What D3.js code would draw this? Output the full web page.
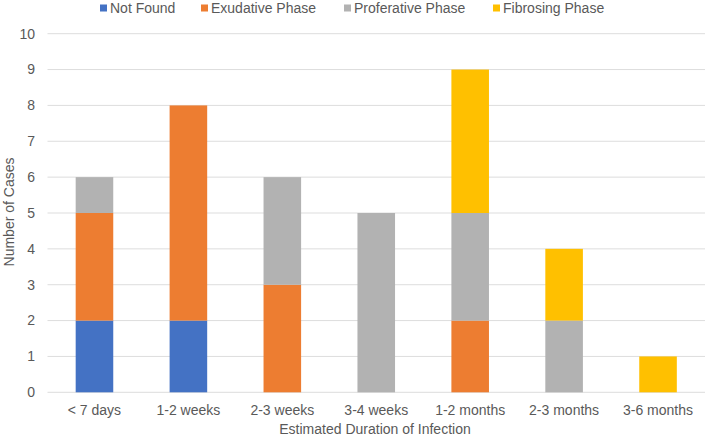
<!DOCTYPE html>
<html><head><meta charset="utf-8">
<script src="https://cdn.jsdelivr.net/npm/d3@7"></script>
<style>body{margin:0;background:#fff}svg{display:block;font-family:"Liberation Sans",Arial,sans-serif}</style>
</head><body><svg width="706" height="436"></svg>
<script>
const categories = ["< 7 days","1-2 weeks","2-3 weeks","3-4 weeks","1-2 months","2-3 months","3-6 months"];
const seriesNames = ["Not Found","Exudative Phase","Proferative Phase","Fibrosing Phase"];
const notFound   = [2,2,0,0,0,0,0];
const exudative  = [3,6,3,0,2,0,0];
const proferative= [1,0,3,5,3,2,0];
const fibrosing  = [0,0,0,0,4,2,1];
const yTicks = [0,1,2,3,4,5,6,7,8,9,10];
const colors = ["#4472C4","#ED7D31","#B2B2B2","#FFC000"];

const rows = categories.map((c,i)=>({cat:c, "Not Found":notFound[i], "Exudative Phase":exudative[i], "Proferative Phase":proferative[i], "Fibrosing Phase":fibrosing[i]}));
const stack = d3.stack().keys(seriesNames)(rows);

const svg = d3.select("svg");
const m = {l:47.5, r:705, t:33.7, b:392.3};
const x = d3.scaleBand().domain(categories).range([m.l,m.r]).paddingInner(0.6).paddingOuter(0.3);
const y = d3.scaleLinear().domain([0,10]).range([m.b,m.t]);
const txt = "#595959";
const fs = 14;

// grid
svg.append("g").selectAll("line").data(yTicks).join("line")
  .attr("x1",m.l).attr("x2",m.r).attr("y1",d=>y(d)).attr("y2",d=>y(d))
  .attr("stroke","#DDDDDD").attr("stroke-width",1);

// y labels
svg.append("g").selectAll("text").data(yTicks).join("text")
  .attr("x",35).attr("y",d=>y(d)).attr("dy","0.35em").attr("text-anchor","end")
  .attr("font-size",fs).attr("fill",txt).text(d=>d);

// bars
svg.append("g").selectAll("g").data(stack).join("g").attr("fill",(d,i)=>colors[i])
  .selectAll("rect").data(d=>d.filter(p=>p[1]>p[0])).join("rect")
  .attr("x",d=>x(d.data.cat)).attr("width",x.bandwidth())
  .attr("y",d=>y(d[1])).attr("height",d=>y(d[0])-y(d[1]));

// x labels
svg.append("g").selectAll("text").data(categories).join("text")
  .attr("x",d=>x(d)+x.bandwidth()/2).attr("y",410).attr("dy","0.35em").attr("text-anchor","middle")
  .attr("font-size",fs).attr("fill",txt).text(d=>d);

svg.append("text").attr("x",375).attr("y",429).attr("dy","0.35em").attr("text-anchor","middle")
  .attr("font-size",fs).attr("fill",txt).text("Estimated Duration of Infection");

svg.append("text").attr("transform","translate(9,212) rotate(-90)").attr("dy","0.35em").attr("text-anchor","middle")
  .attr("font-size",fs).attr("fill",txt).text("Number of Cases");

// legend
const legX = [100,201,344,493];
const lg = svg.append("g").selectAll("g").data(seriesNames).join("g")
  .attr("transform",(d,i)=>`translate(${legX[i]},8)`);
lg.append("rect").attr("x",0).attr("y",-3.5).attr("width",7).attr("height",7).attr("fill",(d,i)=>colors[i]);
lg.append("text").attr("x",10).attr("dy","0.35em").attr("font-size",fs).attr("fill",txt).text(d=>d);
</script></body></html>
